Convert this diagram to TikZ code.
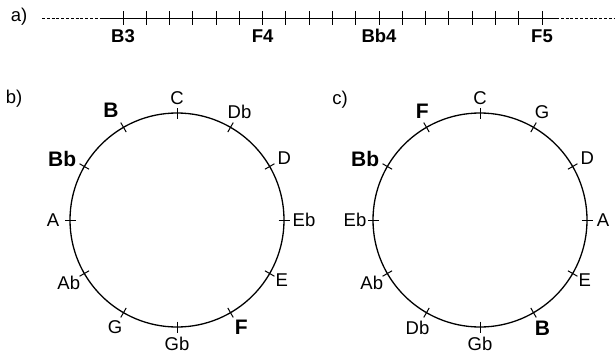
\documentclass[tikz,border=0pt]{standalone}
\usepackage{fontspec}
\setmainfont{Liberation Sans}
\usetikzlibrary{calc}

\begin{document}
\begin{tikzpicture}[
  x=1pt, y=-1pt,
  every node/.style={font=\fontsize{18.5}{21}\selectfont, inner sep=0pt},
  keynote/.style={font=\fontsize{21}{24}\selectfont\bfseries},
  octave/.style={font=\fontsize{18.5}{21}\selectfont\bfseries},
  wheel/.style={line width=1.3pt},
  tickmark/.style={line width=1pt},
  faint/.style={line width=0.9pt, dash pattern=on 3pt off 1.8pt}
]
\useasboundingbox (0,0) rectangle (615,356);

% a) pitch line
\node (tagA) at (19,17) {a)};
\coordinate (lineL) at (42,18.5);
\coordinate (solidL) at (100,18.5);
\coordinate (solidR) at (556,18.5);
\coordinate (lineR) at (615,18.5);
\draw[faint] (lineL) -- (solidL);
\draw[line width=1.1pt] (solidL) -- (solidR);
\draw[faint] (solidR) -- (lineR);
\foreach \i in {0,...,18}
  \draw[tickmark] (123+23.28*\i,11) -- ++(0,14);
\node[octave] (B3) at (123,36) {B3};
\node[octave] (F4) at (262.7,36) {F4};
\node[octave] (Bb4) at (379,36) {Bb4};
\node[octave] (F5) at (542,36) {F5};

% b) chromatic circle
\node (tagB) at (14,99) {b)};
\coordinate (cb) at (177,220);
\draw[wheel] (cb) circle (107);
\foreach \a in {0,30,...,330}
  \draw[tickmark] ($(cb)+(\a:101.5)$) -- ($(cb)+(\a:112.5)$);
\node (b-C)  at ($(cb)+(270:122)$) {C};
\node (b-Db) at ($(cb)+(300:125)$) {Db};
\node (b-D)  at ($(cb)+(330:124)$) {D};
\node (b-Eb) at ($(cb)+(0:127)$) {Eb};
\node (b-E)  at ($(cb)+(30:121)$) {E};
\node[keynote] (b-F) at ($(cb)+(59:125)$) {F};
\node (b-Gb) at ($(cb)+(90:124)$) {Gb};
\node (b-G)  at ($(cb)+(120:124)$) {G};
\node (b-Ab) at ($(cb)+(150:125)$) {Ab};
\node (b-A)  at ($(cb)+(180:124)$) {A};
\node[keynote] (b-Bb) at ($(cb)+(208:130)$) {Bb};
\node[keynote] (b-B)  at ($(cb)+(239:128)$) {B};

% c) circle of fifths
\node (tagC) at (340,100) {c)};
\coordinate (cc) at (480,220);
\draw[wheel] (cc) circle (107);
\foreach \a in {0,30,...,330}
  \draw[tickmark] ($(cc)+(\a:101.5)$) -- ($(cc)+(\a:112.5)$);
\node (c-C)  at ($(cc)+(270:122)$) {C};
\node (c-G)  at ($(cc)+(300:124)$) {G};
\node (c-D)  at ($(cc)+(330:124)$) {D};
\node (c-A)  at ($(cc)+(0:123)$) {A};
\node (c-E)  at ($(cc)+(30:121)$) {E};
\node[keynote] (c-B) at ($(cc)+(60:125)$) {B};
\node (c-Gb) at ($(cc)+(90:124)$) {Gb};
\node (c-Db) at ($(cc)+(120:125)$) {Db};
\node (c-Ab) at ($(cc)+(150:125)$) {Ab};
\node (c-Eb) at ($(cc)+(180:125)$) {Eb};
\node[keynote] (c-Bb) at ($(cc)+(208:130)$) {Bb};
\node[keynote] (c-F)  at ($(cc)+(242:123)$) {F};
\end{tikzpicture}
\end{document}
